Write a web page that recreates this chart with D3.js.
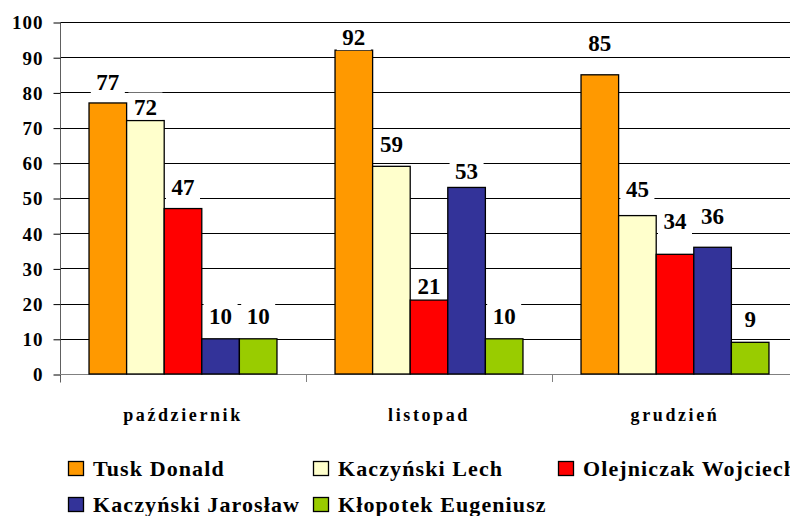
<!DOCTYPE html>
<html>
<head>
<meta charset="utf-8">
<script src="https://cdn.jsdelivr.net/npm/d3@7"></script>
<style>
  body { margin: 0; background: #fff; }
</style>
</head>
<body>
<svg id="chart" width="790" height="516"></svg>
<script>
// ---------------------------------------------------------------- data
let months = ["październik", "listopad", "grudzień"];
let candidates = ["Tusk Donald", "Kaczyński Lech", "Olejniczak Wojciech", "Kaczyński Jarosław", "Kłopotek Eugeniusz"];
let tusk       = [77, 92, 85];
let kaczLech   = [72, 59, 45];
let olejniczak = [47, 21, 34];
let kaczJar    = [10, 53, 36];
let klopotek   = [10, 10, 9];
let yTicks = [0, 10, 20, 30, 40, 50, 60, 70, 80, 90, 100];

// layout only: gap between bar top and label baseline (as placed in the original)
let labelGap = [
    [13, 6, 14, 15, 15],
    [5, 14, 6, 8, 15],
    [24, 19, 25, 23, 15]
];
let colors = ["#FF9900", "#FFFFCC", "#FF0000", "#333399", "#99CC00"];
let FONT = "Liberation Serif";

let series = [tusk, kaczLech, olejniczak, kaczJar, klopotek];
let rows = months.map((m, i) => ({
    month: m,
    values: candidates.map((c, j) => ({name: c, value: series[j][i], gap: labelGap[i][j], color: colors[j]}))
}));

// ---------------------------------------------------------------- scales
let svg = d3.select("#chart");
let plotL = 60, plotR = 798, plotT = 22, plotB = 374;

let y = d3.scaleLinear().domain([0, 100]).range([plotB, plotT]);
let x0 = d3.scaleBand().domain(months).range([plotL, plotR]).paddingInner(0.236).paddingOuter(0.118);
let x1 = d3.scaleBand().domain(candidates).range([0, x0.bandwidth()]);

// gridlines
svg.append("g").selectAll("line").data(yTicks.slice(1)).enter().append("line")
    .attr("x1", plotL).attr("x2", 790)
    .attr("y1", d => Math.round(y(d)) + 0.5).attr("y2", d => Math.round(y(d)) + 0.5)
    .attr("stroke", "#000").attr("stroke-width", 1);

// y axis
let yAxis = d3.axisLeft(y).tickValues(yTicks).tickSize(7).tickSizeOuter(0).tickPadding(10);
let gy = svg.append("g").attr("transform", "translate(" + (plotL + 0.5) + ",0.5)").call(yAxis)
    .attr("font-family", FONT).attr("font-size", 19).attr("font-weight", "bold");
gy.select(".domain").attr("stroke", "#606060").attr("d", "M0," + (plotT - 0.5) + "V" + (plotB + 8));
gy.selectAll(".tick line").attr("stroke", "#000");
gy.selectAll(".tick text").attr("letter-spacing", 1).attr("fill", "#000").attr("dy", "0.34em");

// x axis line + category separator ticks
let gap = x0.step() - x0.bandwidth();
let bounds = months.map(m => x0(m) - gap / 2).concat([plotR]);
svg.append("line").attr("x1", plotL).attr("x2", 790)
    .attr("y1", plotB + 0.5).attr("y2", plotB + 0.5).attr("stroke", "#808080");
svg.append("g").selectAll("line").data(bounds.slice(1)).enter().append("line")
    .attr("x1", d => Math.round(d) + 0.5).attr("x2", d => Math.round(d) + 0.5)
    .attr("y1", plotB).attr("y2", plotB + 8).attr("stroke", "#808080");

// category labels
svg.append("g").selectAll("text").data(months).enter().append("text")
    .attr("x", d => x0(d) + x0.bandwidth() / 2).attr("y", 421)
    .attr("text-anchor", "middle").attr("font-family", FONT).attr("font-weight", "bold")
    .attr("font-size", 18).attr("letter-spacing", 2.6)
    .text(d => d);

// bars
let groups = svg.append("g").selectAll("g").data(rows).enter().append("g")
    .attr("transform", d => "translate(" + x0(d.month) + ",0)");

groups.selectAll("rect").data(d => d.values).enter().append("rect")
    .attr("x", d => x1(d.name)).attr("width", x1.bandwidth())
    .attr("y", d => y(d.value)).attr("height", d => plotB - y(d.value))
    .attr("fill", d => d.color).attr("stroke", "#000").attr("stroke-width", 1.3);

// value labels with white box
let labels = groups.selectAll("g.lbl").data(d => d.values).enter().append("g").attr("class", "lbl");
labels.append("rect")
    .attr("x", d => x1(d.name) + x1.bandwidth() / 2 - 17)
    .attr("y", d => y(d.value) - d.gap - 22)
    .attr("width", 34).attr("height", 27).attr("fill", "#fff");
labels.append("text")
    .attr("x", d => x1(d.name) + x1.bandwidth() / 2)
    .attr("y", d => y(d.value) - d.gap)
    .attr("text-anchor", "middle").attr("font-family", FONT).attr("font-weight", "bold")
    .attr("font-size", 23)
    .text(d => d.value);

// legend
let legend = svg.append("g").selectAll("g").data(candidates).enter().append("g")
    .attr("transform", (d, i) => "translate(" + (68 + (i % 3) * 245) + "," + (461 + Math.floor(i / 3) * 36) + ")");
legend.append("rect").attr("x", 0.5).attr("y", 0.5).attr("width", 15).attr("height", 14)
    .attr("fill", (d, i) => colors[i]).attr("stroke", "#000").attr("stroke-width", 1.3);
legend.append("text").attr("x", 25).attr("y", 15)
    .attr("font-family", FONT).attr("font-weight", "bold")
    .attr("font-size", 22).attr("letter-spacing", 1.1)
    .text(d => d);
</script>
</body>
</html>
